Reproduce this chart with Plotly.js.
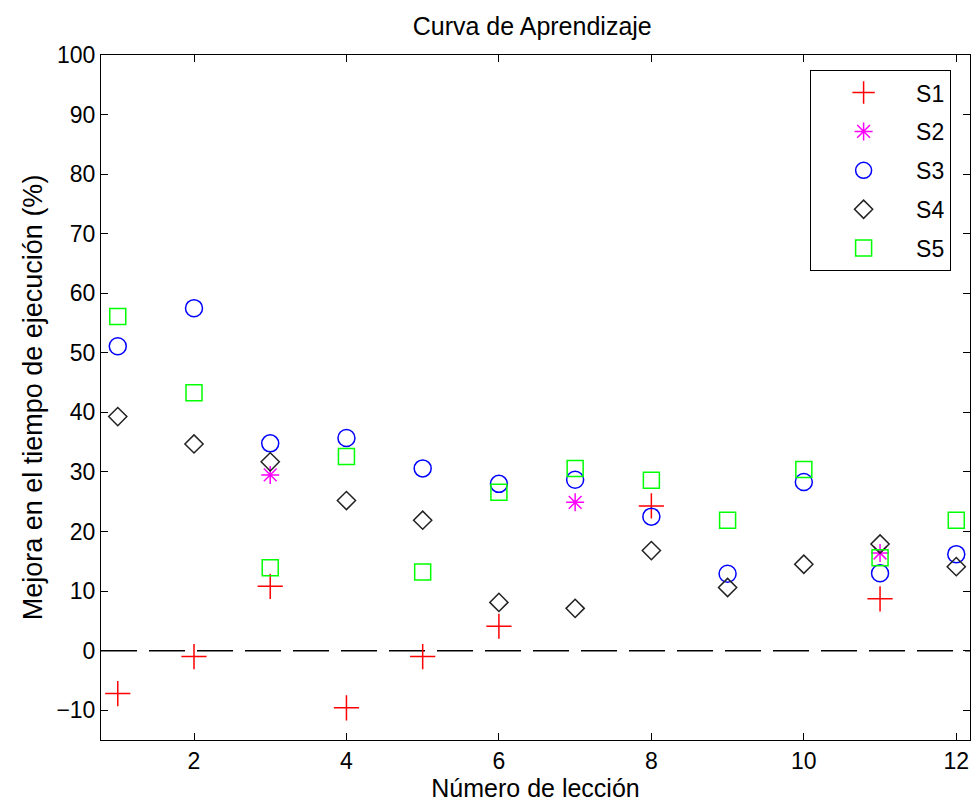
<!DOCTYPE html>
<html>
<head>
<meta charset="utf-8">
<script src="https://cdn.plot.ly/plotly-3.0.1.min.js"></script>
<style>html,body{margin:0;padding:0;background:#fff;}#chart{width:973px;height:808px;}</style>
</head>
<body>
<div id="chart"></div>
<script>
const lessons = [1,2,3,4,5,6,7,8,9,10,11,12];
const s1 = [-7.2, -1.0, 10.8, -9.6, -1.0, 4.1, null, 24.3, null, null, 8.7, null];
const s2 = [null, null, 29.5, null, null, null, 24.9, null, null, null, 16.4, null];
const s3 = [51.1, 57.5, 34.8, 35.7, 30.6, 28.0, 28.7, 22.5, 12.9, 28.3, 13.0, 16.2];
const s4 = [39.3, 34.7, 31.7, 25.2, 21.9, 8.1, 7.1, 16.8, 10.6, 14.5, 17.9, 14.1];
const s5 = [56.1, 43.3, 13.9, 32.6, 13.2, 26.6, 30.6, 28.6, 21.9, 30.4, 15.6, 21.9];
const seriesNames = ['S1','S2','S3','S4','S5'];
const xRange = [0.78, 12.18];
const yRange = [-15, 100];
const refY = 0;

const FONT = 'Liberation Sans, Arial, sans-serif';

function mk(name, y, symbol, color, size) {
  return {
    type: 'scatter', mode: 'markers', x: lessons, y: y, name: name,
    legendgroup: name,
    marker: {symbol: symbol, size: size, color: color, line: {color: color, width: 1.5}},
    hoverinfo: 'x+y'
  };
}

const traces = [
  {type:'scatter', mode:'lines', x: xRange, y: [refY, refY], showlegend:false,
   line:{color:'#000', width:1.5, dash:'36px,12px'}, hoverinfo:'skip'},
  mk(seriesNames[0], s1, 'cross-thin-open', '#ff0000', 18),
  mk(seriesNames[1], s2, 'asterisk-open', '#ff00ff', 15),
  mk(seriesNames[2], s3, 'circle-open', '#0000ff', 17),
  mk(seriesNames[3], s4, 'diamond-open', '#222222', 14),
  mk(seriesNames[4], s5, 'square-open', '#00ff00', 16)
];

const layout = {
  width: 973, height: 808,
  margin: {l: 101, r: 3, t: 55, b: 68},
  paper_bgcolor: '#fff', plot_bgcolor: '#fff',
  font: {family: FONT, size: 23, color: '#000'},
  title: {text: 'Curva de Aprendizaje', font: {family: FONT, size: 25, color:'#000'},
          x: 0.547, xanchor: 'center', y: 0.968, yanchor: 'middle'},
  showlegend: true,
  legend: {x: 0.816, y: 0.978, xanchor: 'left', yanchor: 'top',
           bgcolor: '#fff', bordercolor: '#000', borderwidth: 1,
           font: {family: FONT, size: 23, color: '#000'},
           itemwidth: 95, traceorder: 'grouped', tracegroupgap: 6},
  xaxis: {range: xRange, tickvals: [2,4,6,8,10,12], ticktext: ['2','4','6','8','10','12'],
          ticks: 'inside', ticklen: 7, tickwidth: 1, tickcolor: '#000',
          showline: true, linecolor: '#000', linewidth: 1, mirror: 'ticks',
          showgrid: false, zeroline: false,
          tickfont: {family: FONT, size: 23, color: '#000'},
          title: {text: 'Número de lección', font: {family: FONT, size: 25, color: '#000'}, standoff: 6}},
  yaxis: {range: yRange, tickvals: [-10,0,10,20,30,40,50,60,70,80,90,100],
          ticks: 'inside', ticklen: 7, tickwidth: 1, tickcolor: '#000',
          showline: true, linecolor: '#000', linewidth: 1, mirror: 'ticks',
          showgrid: false, zeroline: false,
          tickfont: {family: FONT, size: 23, color: '#000'},
          title: {text: 'Mejora en el tiempo de ejecución (%)', font: {family: FONT, size: 27, color: '#000'}, standoff: 5}}
};

Plotly.newPlot('chart', traces, layout, {displayModeBar: false, staticPlot: true});
</script>
</body>
</html>
